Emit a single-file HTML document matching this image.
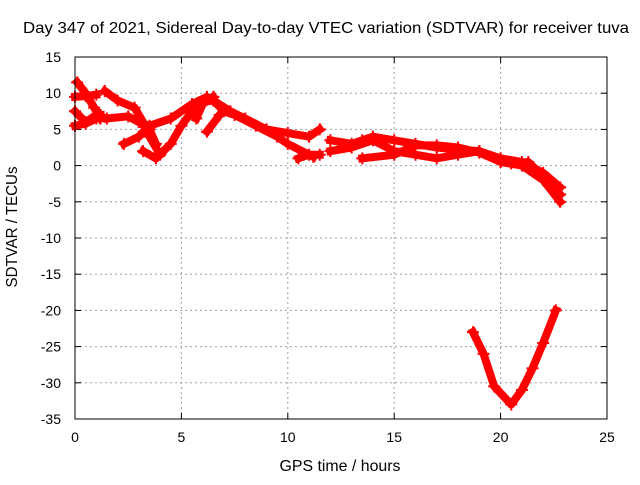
<!DOCTYPE html>
<html><head><meta charset="utf-8"><style>
body{margin:0;background:#fff}
svg text{font-family:"Liberation Sans",sans-serif;font-size:14px;fill:#000}
svg text.big{font-size:16px}
</style></head><body>
<svg id="chart" width="640" height="480" viewBox="0 0 640 480">
<rect width="640" height="480" fill="#fff"/>
<text class="big" x="326" y="33" text-anchor="middle" textLength="606" lengthAdjust="spacingAndGlyphs">Day 347 of 2021, Sidereal Day-to-day VTEC variation (SDTVAR) for receiver tuva</text>
<g id="grid"></g>
<g id="ticks"></g>
<g id="series"></g>
<rect x="75" y="57" width="532" height="362" fill="none" stroke="#000" stroke-width="1"/>
<text class="big" x="340" y="471" text-anchor="middle" textLength="121" lengthAdjust="spacingAndGlyphs">GPS time / hours</text>
<text class="big" transform="translate(17,227) rotate(-90)" text-anchor="middle" textLength="121" lengthAdjust="spacingAndGlyphs">SDTVAR / TECUs</text>
</svg>
<script>
const xTicks=[0,5,10,15,20,25];
const yTicks=[15,10,5,0,-5,-10,-15,-20,-25,-30,-35];
const track1=[[0.1,11.5],[0.5,10],[0.9,8],[1.2,6.5]];
const track1b=[[0,9.5],[0.5,9.6],[1,9.8]];
const track2=[[0,7.5],[0.5,6],[1,7],[1.2,7]];
const track3=[[0,5.5],[0.5,5.8],[1,6.5]];
const track4=[[1.4,10.3],[2,9],[2.8,8],[3.2,6],[3.5,4],[4,1.5]];
const track5=[[1.5,6.5],[2.5,6.8],[3,6],[3.5,5],[3.8,3]];
const track6=[[2.3,3],[3,4],[3.5,5.5],[4.5,6.5],[5.5,8.5],[6.2,9.5],[6.5,9],[7,7.5],[7.5,7],[8.5,5.5],[9.5,4],[10,3],[11.2,1.2]];
const track7=[[3.2,2],[3.8,1],[4.5,3],[5,5.5],[5.8,8.7],[6.5,9],[7.3,7.5],[8,6.5],[9,5],[10,4.5],[11,4],[11.5,5]];
const track8=[[5.7,6.5],[6,8.5],[6.5,9.5]];
const track8b=[[6.2,4.7],[6.8,7]];
const track9=[[10.5,1],[11,1.5],[11.5,1.5]];
const track10=[[12,3.5],[13,3],[13.5,3.5],[14,4],[15,3.5],[16,3],[17,2.5],[18,2.2],[19,2],[20,0.5],[21,0],[22,-2],[22.8,-5]];
const track11=[[12,2],[13,2.5],[14,3.5],[15,2],[16,1.5],[17,1],[18,1.5],[19,2],[20,1],[21,0.5],[22,-1],[22.8,-3]];
const track12=[[13.5,1],[15,1.5],[16,2.8],[17,2.8],[18,2.5],[19,1.8],[20,0.5],[20.5,0.3],[21.3,0.5],[22,-1.5],[22.8,-4]];
const trackV=[[18.7,-23],[19.2,-26],[19.7,-30.5],[20.5,-33],[21,-31],[21.5,-28],[22,-24.5],[22.6,-20]];
const tracks=[track1,track1b,track2,track3,track4,track5,track6,track7,track8,track8b,track9,track10,track11,track12,trackV];

const NS="http://www.w3.org/2000/svg";
const X=h=>75+h*532/25;
const Y=v=>57+(15-v)*362/50;
function mk(tag,attrs,parent){const e=document.createElementNS(NS,tag);for(const k in attrs)e.setAttribute(k,attrs[k]);parent.appendChild(e);return e;}
const grid=document.getElementById('grid'),ticks=document.getElementById('ticks'),series=document.getElementById('series');
xTicks.forEach(t=>{
  const x=X(t);
  if(t>0&&t<25){const g=mk('line',{x1:x,y1:57,x2:x,y2:419,stroke:'#a0a0a0','stroke-dasharray':'2,3'},grid);
  
  }
  mk('line',{x1:x,y1:419,x2:x,y2:413,stroke:'#000'},ticks);
  mk('line',{x1:x,y1:57,x2:x,y2:63,stroke:'#000'},ticks);
  const l=mk('text',{x:x,y:442,'text-anchor':'middle'},ticks);l.textContent=t;
  
  
});
yTicks.forEach(t=>{
  const y=Y(t);
  if(t<15&&t>-35){const g=mk('line',{x1:75,y1:y,x2:607,y2:y,stroke:'#a0a0a0','stroke-dasharray':'2,3'},grid);
  
  }
  mk('line',{x1:75,y1:y,x2:81,y2:y,stroke:'#000'},ticks);
  mk('line',{x1:607,y1:y,x2:601,y2:y,stroke:'#000'},ticks);
  const l=mk('text',{x:61,y:y+5,'text-anchor':'end'},ticks);l.textContent=t;
  
  
});
tracks.forEach((tr,i)=>{
  const pts=tr.map(p=>X(p[0])+','+Y(p[1])).join(' ');
  const pl=mk('polyline',{points:pts,fill:'none',stroke:'#ff0000','stroke-width':8,'stroke-linejoin':'round','stroke-linecap':'square'},series);
  
  
  tr.forEach(p=>{
    const x=X(p[0]),y=Y(p[1]);
    const m=mk('path',{d:`M${x-6},${y}H${x+6}M${x},${y-6}V${y+6}`,stroke:'#ff0000','stroke-width':2},series);
    
    
  });
});
</script>
</body></html>
